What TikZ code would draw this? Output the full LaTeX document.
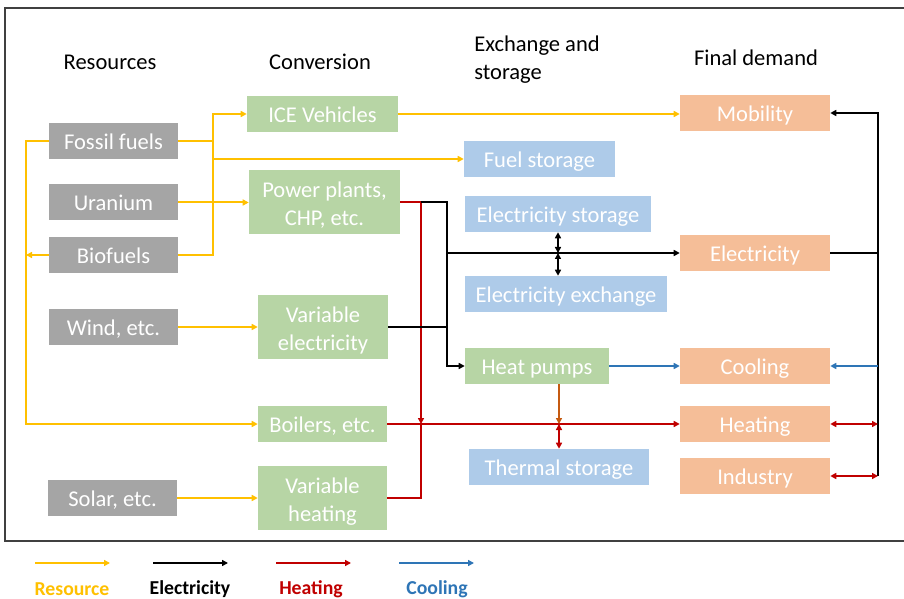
\documentclass[tikz,border=0pt]{standalone}
\usepackage{fontspec}
\setmainfont{Carlito}
\usetikzlibrary{arrows.meta}
\definecolor{resgray}{HTML}{A5A5A5}
\definecolor{convgreen}{HTML}{B7D5A5}
\definecolor{exblue}{HTML}{AECBE9}
\definecolor{demorange}{HTML}{F5BE98}
\definecolor{yl}{HTML}{FFC000}
\definecolor{rd}{HTML}{C00000}
\definecolor{bl}{HTML}{2E75B6}
\definecolor{orl}{HTML}{C55A11}
\definecolor{framecol}{HTML}{404040}
\begin{document}
\begin{tikzpicture}[x=0.75pt,y=-0.75pt,
  box/.style={rectangle, inner sep=0pt, text=white, align=center,
    font=\fontsize{16.9}{21}\selectfont, minimum height=27pt,
    text height=12.3pt, text depth=0pt},
  two/.style={minimum height=48pt, text height=34.5pt, text depth=0pt},
  res/.style={box, fill=resgray, minimum width=96.75pt},
  conv/.style={box, fill=convgreen},
  exch/.style={box, fill=exblue},
  dem/.style={box, fill=demorange, minimum width=112.5pt},
  hdr/.style={font=\fontsize{16.9}{21}\selectfont, inner sep=0pt},
  leg/.style={font=\fontsize{14.8}{18}\selectfont\bfseries, inner sep=0pt},
  tip/.tip={Triangle[length=4.5pt,width=4.5pt]},
  flow/.style={line width=1.5pt},
  yline/.style={flow, draw=yl},
  bline/.style={flow, draw=black},
  rline/.style={flow, draw=rd},
  cline/.style={flow, draw=bl},
  oline/.style={flow, draw=orl}
]
\useasboundingbox (0,0) rectangle (904,599);
% frame
\draw[framecol, line width=1.2pt] (915,8) -- (5,8) -- (5,541) -- (915,541);

% headers
\node[hdr] (hres) at (110,62) {Resources};
\node[hdr] (hconv) at (320,62) {Conversion};
\node[hdr, anchor=west, align=left] (hexch) at (474,60) {Exchange and\\storage};
\node[hdr] (hdem) at (756,58) {Final demand};

% resources
\node[res] (foss) at (113.5,141) {Fossil fuels};
\node[res] (ura) at (113.5,202.5) {Uranium};
\node[res] (bio) at (113.5,255) {Biofuels};
\node[res] (wind) at (113.5,327) {Wind, etc.};
\node[res] (solar) at (112.5,498) {Solar, etc.};

% conversion
\node[conv, minimum width=113.25pt] (ice) at (322.5,114) {ICE Vehicles};
\node[conv, two, minimum width=113.25pt] (pp) at (324.5,202.5) {Power plants,\\CHP, etc.};
\node[conv, two, minimum width=97.5pt] (varel) at (323,327) {Variable\\electricity};
\node[conv, minimum width=96.75pt] (boil) at (322.5,424) {Boilers, etc.};
\node[conv, two, minimum width=96.75pt] (varheat) at (322.5,498) {Variable\\heating};

% exchange and storage
\node[exch, minimum width=113.25pt] (fuel) at (539.5,159) {Fuel storage};
\node[exch, minimum width=139.5pt] (es) at (558,214) {Electricity storage};
\node[exch, minimum width=151.5pt] (ex) at (566,294) {Electricity exchange};
\node[conv, minimum width=108pt] (hp) at (537,366) {Heat pumps};
\node[exch, minimum width=135pt] (ts) at (559,467) {Thermal storage};

% final demand
\node[dem] (mob) at (755,113) {Mobility};
\node[dem] (elec) at (755,253) {Electricity};
\node[dem] (cool) at (755,366) {Cooling};
\node[dem] (heat) at (755,424) {Heating};
\node[dem] (ind) at (755,476) {Industry};

% bus coordinates
\coordinate (yx) at (213,0);
\coordinate (lx) at (26,0);
\coordinate (rx) at (421,0);
\coordinate (bx) at (447,0);
\coordinate (ex8) at (878,0);
\coordinate (sx) at (558,0);

% resource (yellow) flows
\draw[yline,-tip] (foss.east) -- (yx |- foss.east) |- (ice.west);
\draw[yline] (bio.east) -| (yx |- foss.east);
\draw[yline,-tip] (yx |- fuel.west) -- (fuel.west);
\draw[yline,-tip] (ura.east) -- (pp.west);
\draw[yline,-tip] (foss.west) -| (lx |- boil.west) -- (boil.west);
\draw[yline,-tip] (bio.west) -- (lx |- bio.west);
\draw[yline,-tip] (wind.east) -- (varel.west);
\draw[yline,-tip] (solar.east) -- (varheat.west);
\draw[yline,-tip] (ice.east) -- (ice.east -| mob.west);

% heating (red) flows
\draw[rline] (pp.east) -- (rx |- pp.east);
\draw[rline,-tip] (rx |- pp.east) -- (rx |- boil.east);
\draw[rline] (varheat.east) -| (rx |- boil.east);
\draw[rline,-tip] (boil.east) -- (heat.west);
\draw[rline,tip-tip] (ts.north |- heat.west) -- (ts.north);
\draw[oline,-tip] (hp.south -| ts.north) -- (ts.north |- heat.west);

% electricity (black) flows
\draw[bline,-tip] (rx |- pp.east) -| (bx |- hp.west) -- (hp.west);
\draw[bline,-tip] (bx |- elec.west) -- (elec.west);
\draw[bline] (varel.east) -- (bx |- varel.east);
\draw[bline,tip-tip] (sx |- es.south) -- (sx |- elec.west);
\draw[bline,tip-tip] (sx |- elec.west) -- (sx |- ex.north);

% cooling (blue)
\draw[cline,-tip] (hp.east) -- (cool.west);

% right-hand return bus
\draw[bline,-tip] (elec.east) -- (ex8 |- elec.east) |- (mob.east);
\draw[bline] (ex8 |- elec.east) -- (ex8 |- ind.east);
\draw[cline,-tip] (ex8 |- cool.east) -- (cool.east);
\draw[rline,tip-tip] (ex8 |- heat.east) -- (heat.east);
\draw[rline,tip-tip] (ex8 |- ind.east) -- (ind.east);

% legend
\coordinate (l1a) at (35,563); \coordinate (l1b) at (110,563);
\coordinate (l2a) at (153,563); \coordinate (l2b) at (228,563);
\coordinate (l3a) at (276,563); \coordinate (l3b) at (351,563);
\coordinate (l4a) at (399,563); \coordinate (l4b) at (474,563);
\draw[yline,-tip] (l1a) -- (l1b);
\draw[bline,-tip] (l2a) -- (l2b);
\draw[rline,-tip] (l3a) -- (l3b);
\draw[cline,-tip] (l4a) -- (l4b);
\node[leg, text=yl] (lres) at (72,589) {Resource};
\node[leg, text=black] (lel) at (190,589) {Electricity};
\node[leg, text=rd] (lht) at (311,589) {Heating};
\node[leg, text=bl] (lcl) at (437,589) {Cooling};
\end{tikzpicture}
\end{document}
